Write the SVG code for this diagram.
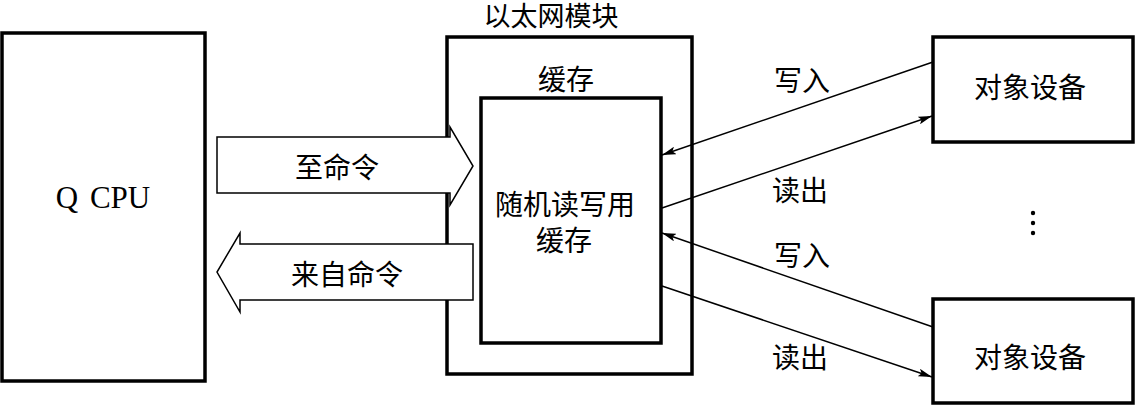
<svg xmlns="http://www.w3.org/2000/svg" width="1136" height="407" viewBox="0 0 1136 407">
  <style>
    .box { fill: #fff; stroke: #000; stroke-width: 3.5; }
    .big { fill: #fff; stroke: #000; stroke-width: 1.5; stroke-linejoin: miter; }
    .ln { fill: none; stroke: #000; stroke-width: 1.5; marker-end: url(#ah); }
    .cjk { font-family: "Noto Sans CJK SC", sans-serif; font-size: 28px; fill: #000; text-anchor: middle; }
    .lat { font-family: "Liberation Serif", serif; font-size: 31px; fill: #000; text-anchor: middle; word-spacing: 4px; }
  </style>
  <defs>
    <marker id="ah" viewBox="0 0 14 8" refX="14" refY="4" markerWidth="14" markerHeight="8" markerUnits="userSpaceOnUse" orient="auto">
      <path d="M0,0 L14,4 L0,8 L3,4 z" fill="#000"/>
    </marker>
  </defs>
  <rect width="1136" height="407" fill="#fff"/>

  <g id="cpu">
    <rect class="box" x="2" y="33" width="203" height="348"/>
    <text class="lat" x="103" y="208">Q CPU</text>
  </g>

  <g id="ethernet-module">
    <rect class="box" x="447" y="37" width="245" height="337"/>
    <text class="cjk" x="551" y="26" style="font-size:27px">以太网模块</text>
    <text class="cjk" x="566" y="90">缓存</text>
  </g>

  <g id="ram-buffer">
    <rect class="box" x="481" y="98" width="180" height="245"/>
    <text class="cjk" x="565" y="215">随机读写用</text>
    <text class="cjk" x="564" y="251">缓存</text>
  </g>

  <g id="device-1">
    <rect class="box" x="933" y="37" width="200" height="105"/>
    <text class="cjk" x="1030" y="98">对象设备</text>
  </g>

  <g id="device-2">
    <rect class="box" x="933" y="299" width="200" height="104"/>
    <text class="cjk" x="1030" y="368">对象设备</text>
  </g>

  <g id="ellipsis">
    <circle cx="1033" cy="213" r="2.2" fill="#000"/>
    <circle cx="1033" cy="223" r="2.2" fill="#000"/>
    <circle cx="1033" cy="233" r="2.2" fill="#000"/>
  </g>

  <g id="connectors">
    <polygon class="big" points="217,137 450,137 450,127 473,166 450,205 450,193 217,193"/>
    <text class="cjk" x="337" y="178">至命令</text>
    <polygon class="big" points="473,244 240,244 240,233 217,272 240,312 240,300 473,300"/>
    <text class="cjk" x="347" y="285">来自命令</text>

    <line class="ln" x1="933" y1="62" x2="662" y2="155"/>
    <line class="ln" x1="662" y1="208" x2="932" y2="116"/>
    <line class="ln" x1="933" y1="327" x2="662" y2="233"/>
    <line class="ln" x1="662" y1="286" x2="932" y2="377"/>
    <text class="cjk" x="802" y="91">写入</text>
    <text class="cjk" x="800" y="201">读出</text>
    <text class="cjk" x="802" y="266">写入</text>
    <text class="cjk" x="800" y="368">读出</text>
  </g>
</svg>
